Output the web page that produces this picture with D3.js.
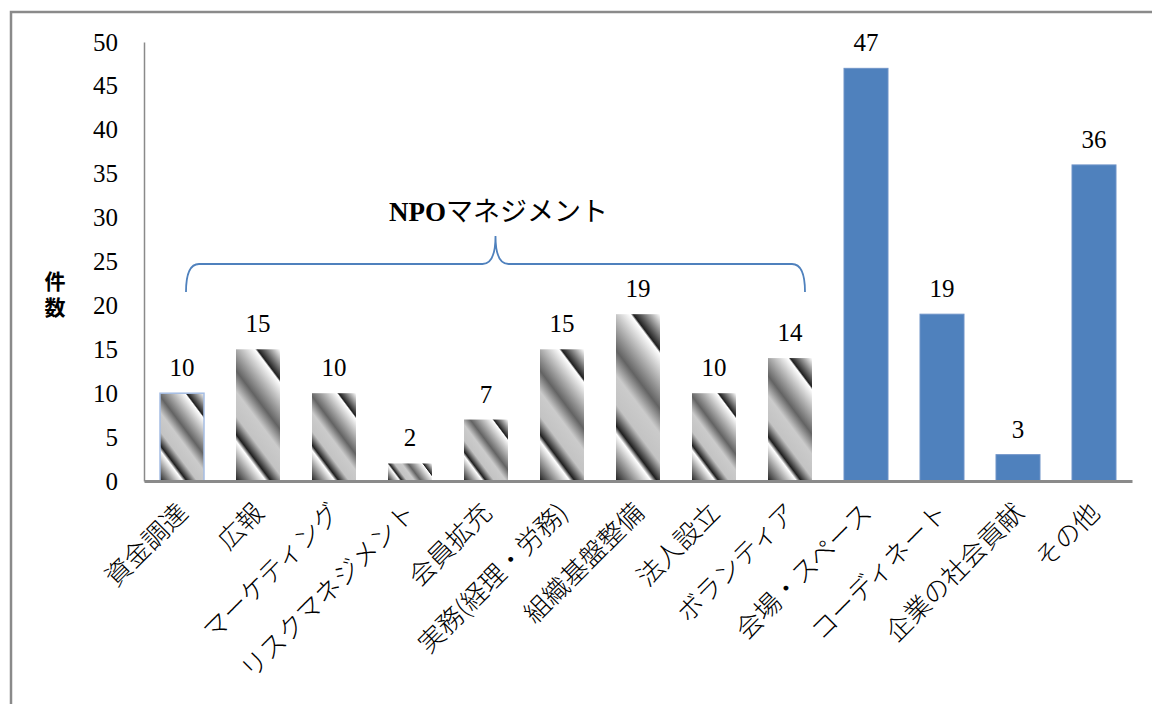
<!DOCTYPE html>
<html>
<head>
<meta charset="utf-8">
<script src="https://cdn.jsdelivr.net/npm/d3@7"></script>
<style>
  html, body { margin: 0; padding: 0; background: #fff; }
  svg { display: block; }
</style>
</head>
<body>
<svg id="chart" width="1152" height="704"></svg>
<script>
// Survey categories and counts
const categories = [
  "資金調達", "広報", "マーケティング", "リスクマネジメント", "会員拡充",
  "実務(経理・労務)", "組織基盤整備", "法人設立", "ボランティア",
  "会場・スペース", "コーディネート", "企業の社会貢献", "その他"
];
const values = [10, 15, 10, 2, 7, 15, 19, 10, 14, 47, 19, 3, 36];
// The first groupSize categories belong to the bracketed group
const groupLabelLatin = "NPO";
const groupLabelKana = "マネジメント";
const groupSize = 9;
const yTicks = [0, 5, 10, 15, 20, 25, 30, 35, 40, 45, 50];
const yTitle = "件数";

// Chrome-style metallic gradient stops
const chromeStops = [
  [0, "#ffffff"], [0.16, "#1f1f1f"], [0.175, "#ffffff"], [0.42, "#636363"],
  [0.53, "#cbcbcb"], [0.66, "#c3c3c3"], [0.755, "#1f1f1f"], [0.79, "#ffffff"],
  [1, "#1f1f1f"]
];

const svg = d3.select("#chart");
const plot = { left: 144, right: 1132, top: 42, bottom: 481 };

// Outer chart frame
svg.append("rect")
  .attr("x", 11).attr("y", 12)
  .attr("width", 1300).attr("height", 900)
  .attr("fill", "none").attr("stroke", "#8a8a8a").attr("stroke-width", 2.5);

const x = d3.scaleBand().domain(categories)
  .range([plot.left, plot.right]).paddingInner(32 / 76).paddingOuter(16 / 76);
const y = d3.scaleLinear().domain([0, 50]).range([plot.bottom, plot.top]);

const defs = svg.append("defs");

// Gradient direction: stripes run at a fixed angle; gradient goes from the
// top-right corner towards the bottom-left corner of each bar.
const n = [-0.8, 0.6];
categories.forEach((c, i) => {
  if (i >= groupSize) return;
  const x0 = x(c), x1 = x(c) + x.bandwidth();
  const y0 = y(values[i]), y1 = y(0);
  const proj = (px, py) => px * n[0] + py * n[1];
  const len = proj(x0, y1) - proj(x1, y0);
  const g = defs.append("linearGradient")
    .attr("id", "grad" + i)
    .attr("gradientUnits", "userSpaceOnUse")
    .attr("x1", x1).attr("y1", y0)
    .attr("x2", x1 + n[0] * len).attr("y2", y0 + n[1] * len);
  chromeStops.forEach(([o, col]) => {
    g.append("stop").attr("offset", o).attr("stop-color", col);
  });
});

// Bars
svg.append("g").selectAll("rect")
  .data(categories)
  .join("rect")
  .attr("x", d => x(d))
  .attr("y", (d, i) => y(values[i]))
  .attr("width", x.bandwidth())
  .attr("height", (d, i) => y(0) - y(values[i]))
  .attr("fill", (d, i) => i < groupSize ? `url(#grad${i})` : "#4f81bd")
  .attr("stroke", (d, i) => i === 0 ? "#a5bde3" : (i < groupSize ? "none" : "#6f93c8"))
  .attr("stroke-width", (d, i) => i === 0 ? 1.5 : 1);

// Y axis
const yAxis = svg.append("g")
  .attr("transform", `translate(${plot.left},0)`)
  .call(d3.axisLeft(y).tickValues(yTicks).tickSize(0).tickPadding(26));
yAxis.select(".domain").attr("stroke", "#8a8a8a").attr("stroke-width", 1.5);
yAxis.selectAll("text")
  .attr("font-family", "Liberation Serif, serif")
  .attr("font-size", 25).attr("fill", "#000");

// X axis
const xAxis = svg.append("g")
  .attr("transform", `translate(0,${plot.bottom})`)
  .call(d3.axisBottom(x).tickSize(0).tickSizeOuter(0).tickFormat(""));
xAxis.select(".domain").attr("stroke", "#8a8a8a").attr("stroke-width", 3);

// Rotated category labels
svg.append("g").selectAll("text")
  .data(categories)
  .join("text")
  .attr("transform", d => `translate(${x(d) + x.bandwidth() / 2 + 1},${plot.bottom + 27}) rotate(-45)`)
  .attr("text-anchor", "end")
  .attr("dy", "0.35em")
  .attr("font-family", "Noto Sans CJK JP, sans-serif")
  .attr("font-weight", 300)
  .attr("font-size", 26)
  .attr("fill", "#000")
  .text(d => d);

// Value labels
svg.append("g").selectAll("text")
  .data(categories)
  .join("text")
  .attr("x", d => x(d) + x.bandwidth() / 2)
  .attr("y", (d, i) => y(values[i]) - 17)
  .attr("text-anchor", "middle")
  .attr("font-family", "Liberation Serif, serif")
  .attr("font-size", 25)
  .attr("fill", "#000")
  .text((d, i) => values[i]);

// Group brace
const bx0 = x(categories[0]) + x.bandwidth() / 2 + 4;
const bx1 = x(categories[groupSize - 1]) + x.bandwidth() / 2 + 15;
const bmid = (bx0 + bx1) / 2;
const yEnd = 292, yLine = 264, yPeak = 236, r = 13;
const brace = d3.path();
brace.moveTo(bx0, yEnd);
brace.quadraticCurveTo(bx0, yLine, bx0 + r, yLine);
brace.lineTo(bmid - r, yLine);
brace.quadraticCurveTo(bmid, yLine, bmid, yPeak);
brace.quadraticCurveTo(bmid, yLine, bmid + r, yLine);
brace.lineTo(bx1 - r, yLine);
brace.quadraticCurveTo(bx1, yLine, bx1, yEnd);
svg.append("path")
  .attr("d", brace.toString())
  .attr("fill", "none").attr("stroke", "#4f81bd").attr("stroke-width", 1.8);

const title = svg.append("text")
  .attr("x", bmid + 3).attr("y", 221)
  .attr("text-anchor", "middle")
  .attr("font-size", 27)
  .attr("fill", "#000");
title.append("tspan")
  .attr("font-family", "Liberation Serif, serif")
  .attr("font-weight", "bold")
  .text(groupLabelLatin);
title.append("tspan")
  .attr("font-family", "Noto Sans CJK JP, sans-serif")
  .attr("font-weight", 400)
  .text(groupLabelKana);

// Y axis title, set vertically
svg.append("text")
  .attr("x", 55)
  .attr("y", 297)
  .attr("writing-mode", "vertical-rl")
  .attr("text-anchor", "middle")
  .attr("letter-spacing", 5)
  .attr("font-family", "Noto Sans CJK JP, sans-serif")
  .attr("font-weight", "bold")
  .attr("font-size", 21)
  .attr("fill", "#000")
  .text(yTitle);
</script>
</body>
</html>
